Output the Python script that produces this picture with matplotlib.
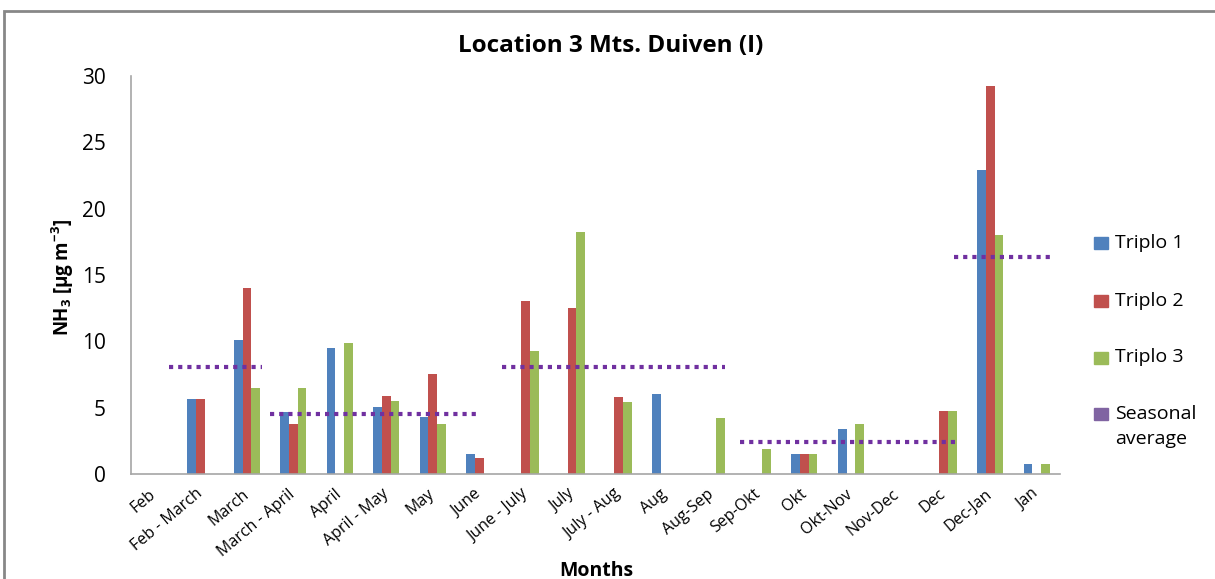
import numpy as np
import matplotlib
matplotlib.use("Agg")
import matplotlib.pyplot as plt
from matplotlib.patches import Rectangle

plt.rcParams['font.family'] = ['Open Sans', 'DejaVu Sans']
plt.rcParams['mathtext.default'] = 'regular'

months = ['Feb', 'Feb - March', 'March', 'March - April', 'April', 'April - May',
          'May', 'June', 'June - July', 'July', 'July - Aug', 'Aug', 'Aug-Sep',
          'Sep-Okt', 'Okt', 'Okt-Nov', 'Nov-Dec', 'Dec', 'Dec-Jan', 'Jan']
nan = np.nan
triplo1 = [nan, 5.65, 10.1, 4.7, 9.47, 5.03, 4.32, 1.48, nan, nan, nan, 6.0,
           nan, nan, 1.48, 3.42, nan, nan, 22.9, 0.75]
triplo2 = [nan, 5.65, 14.04, 3.74, nan, 5.9, 7.54, 1.18, 13.01, 12.5, 5.83, nan,
           nan, nan, 1.48, nan, nan, 4.72, 29.27, nan]
triplo3 = [nan, nan, 6.48, 6.48, 9.85, 5.52, 3.74, nan, 9.29, 18.21, 5.43, nan,
           4.22, 1.88, 1.48, 3.74, nan, 4.72, 17.99, 0.75]
# seasonal averages: (from category, to category, value)
season_start = [0.33, 2.5, 7.5, 12.62, 17.21]
season_end = [2.32, 7.0, 12.3, 17.26, 19.29]
season_val = [8.09, 4.5, 8.06, 2.43, 16.35]

labels = ['Triplo 1', 'Triplo 2', 'Triplo 3', 'Seasonal']
colors = ['#4F81BD', '#C0504D', '#9BBB59', '#8064A2']

fig = plt.figure(figsize=(12.15, 5.79), dpi=100)
ax = fig.add_axes([0.1076, 0.1813, 0.7648, 0.6874])

x = np.arange(len(months))
w = 0.187
for k, vals in enumerate([triplo1, triplo2, triplo3]):
    ax.bar(x + (k - 1.5) * w, vals, width=w, color=colors[k], align='edge',
           edgecolor='none', zorder=2)

for s, e, v in zip(season_start, season_end, season_val):
    ax.plot([s, e], [v, v], color='#7030A0', lw=3, ls=(0, (1, 1.2)), zorder=3)

ax.set_xlim(-0.5, len(months) - 0.5)
ax.set_ylim(0, 30)
ax.set_yticks(range(0, 31, 5))
ax.set_xticks(x)
ax.set_xticklabels(months, rotation=40, ha='right', va='center',
                   rotation_mode='anchor', fontsize=11.5)
ax.tick_params(axis='both', length=0)
ax.tick_params(axis='y', labelsize=15, pad=18)
ax.tick_params(axis='x', pad=13)
for sp in ['top', 'right']:
    ax.spines[sp].set_visible(False)
for sp in ['left', 'bottom']:
    ax.spines[sp].set_color('#A6A6A6')
    ax.spines[sp].set_linewidth(1.2)

fig.text(0.503, 0.921, 'Location 3 Mts. Duiven (I)', ha='center', va='center',
         fontsize=17.5, fontweight='bold')
fig.text(0.052, 0.52, 'NH$_3$ [µg m$^{-3}$]', rotation=90, ha='center', va='center',
         fontsize=13.5, fontweight='bold')
fig.text(0.491, 0.014, 'Months', ha='center', va='center', fontsize=14, fontweight='bold')

# legend drawn by hand so the square sits next to the first line
W, H = 1215, 579
row_y = [243, 301, 357.5, 414]
for lab, c, yy in zip(labels, colors, row_y):
    fig.add_artist(Rectangle((1094 / W, 1 - (yy + 6) / H), 14 / W, 12 / H,
                             transform=fig.transFigure, color=c))
    fig.text(1115 / W, 1 - yy / H, lab, ha='left', va='center', fontsize=14)
fig.text(1115 / W, 1 - 439 / H, 'average', ha='left', va='center', fontsize=14)

fig.add_artist(Rectangle((0.0033, -0.05), 1.2, 0.981 + 0.05, transform=fig.transFigure,
                         fill=False, edgecolor='#878787', lw=2))

fig.savefig('out.png', dpi=100)
